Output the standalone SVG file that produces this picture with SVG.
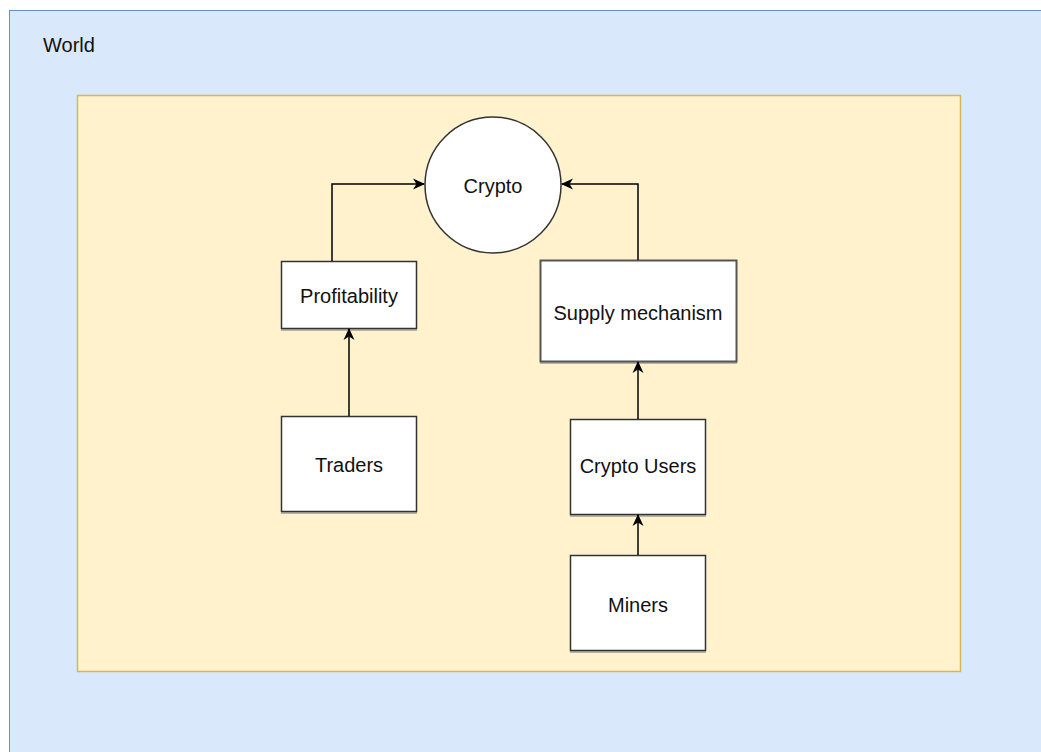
<svg xmlns="http://www.w3.org/2000/svg" width="1041" height="752" viewBox="0 0 1041 752">
<defs>
<marker id="arr" viewBox="0 0 12 12" refX="11" refY="6" markerWidth="12" markerHeight="12" markerUnits="userSpaceOnUse" orient="auto">
<path d="M0,0.5 L12,6 L0,11.5 L3.5,6 Z" fill="#000"/>
</marker>
</defs>
<style>
.box{fill:#fff;stroke:#333;stroke-width:1.5}
.shadow{fill:#888;opacity:0.6}
.lbl{font-family:"Liberation Sans",Arial,sans-serif;font-size:20px;fill:#111;text-anchor:middle;dominant-baseline:central}
.edge{fill:none;stroke:#000;stroke-width:1.5;marker-end:url(#arr)}
</style>
<rect width="1041" height="752" fill="#fff"/>
<g id="world">
<rect x="9.5" y="10.5" width="1040" height="750" fill="#dae8fc" stroke="#6c8ebf" stroke-width="1"/>
<text x="43" y="45" class="lbl" style="text-anchor:start">World</text>
</g>
<g id="area">
<rect x="77.5" y="95.5" width="883" height="576" fill="#fff2cc" stroke="#d6b656" stroke-width="1.5"/>
</g>
<g id="crypto">
<circle cx="493" cy="185" r="68" fill="#fff" stroke="#333" stroke-width="1.5"/>
<text x="493" y="186" class="lbl">Crypto</text>
</g>
<g id="profitability">
<rect x="281" y="329" width="136" height="2" class="shadow"/>
<rect x="281.5" y="261.5" width="135" height="67" class="box"/>
<text x="349" y="296" class="lbl">Profitability</text>
</g>
<g id="traders">
<rect x="281" y="512" width="136" height="2" class="shadow"/>
<rect x="281.5" y="416.5" width="135" height="95" class="box"/>
<text x="349" y="465" class="lbl">Traders</text>
</g>
<g id="supply">
<rect x="540" y="362" width="197" height="2" class="shadow"/>
<rect x="540.5" y="260.5" width="196" height="101" class="box" style="stroke:#555;stroke-width:2"/>
<text x="638" y="313" class="lbl">Supply mechanism</text>
</g>
<g id="users">
<rect x="570" y="515" width="136" height="2" class="shadow"/>
<rect x="570.5" y="419.5" width="135" height="95" class="box"/>
<text x="638" y="466" class="lbl">Crypto Users</text>
</g>
<g id="miners">
<rect x="570" y="651" width="136" height="2" class="shadow"/>
<rect x="570.5" y="555.5" width="135" height="95" class="box"/>
<text x="638" y="605" class="lbl">Miners</text>
</g>
<g id="connectors">
<path class="edge" d="M332,261 L332,184 L424,184"/>
<path class="edge" d="M638,260 L638,184 L562,184"/>
<path class="edge" d="M349,416 L349,329"/>
<path class="edge" d="M638,419 L638,362"/>
<path class="edge" d="M638,555 L638,515"/>
</g>
</svg>
